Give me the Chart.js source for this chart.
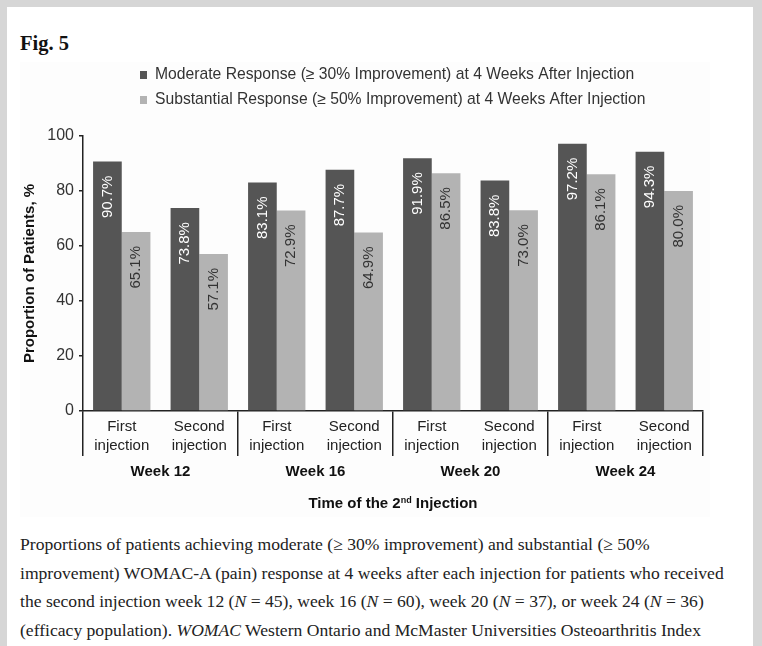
<!DOCTYPE html>
<html>
<head>
<meta charset="utf-8">
<script src="https://cdn.jsdelivr.net/npm/chart.js@4"></script>
<style>
    body { margin: 0; width: 762px; height: 646px; overflow: hidden; background: #fff; }
    #moldura {
        position: absolute; left: 0; top: 0; width: 746px; height: 660px;
        border-left: 7px solid #d6d6d6; border-top: 7px solid #d6d6d6; border-right: 9px solid #d6d6d6;
        background: #fff;
    }
    #figTitulo {
        position: absolute; left: 20px; top: 32px;
        font: bold 20.5px "Liberation Serif", serif; color: #111;
    }
    #areaGrafico {
        position: absolute; left: 20px; top: 62px; width: 690px; height: 455px;
        background: #fdfdfd;
    }
    #legenda {
        position: absolute; left: 20px; top: 530px;
        font: 17.6px/28.5px "Liberation Serif", serif; color: #222; white-space: nowrap;
    }
</style>
</head>
<body>
<div id="moldura"></div>
<div id="figTitulo">Fig. 5</div>
<div id="areaGrafico"><canvas id="grafico"></canvas></div>
<div id="legenda">
Proportions of patients achieving moderate (≥ 30% improvement) and substantial (≥ 50%<br>
improvement) WOMAC-A (pain) response at 4 weeks after each injection for patients who received<br>
the second injection week 12 (<i>N</i> = 45), week 16 (<i>N</i> = 60), week 20 (<i>N</i> = 37), or week 24 (<i>N</i> = 36)<br>
(efficacy population). <i>WOMAC</i> Western Ontario and McMaster Universities Osteoarthritis Index
</div>
<script>
const injectionLabels = [
    ["First", "injection"], ["Second", "injection"],
    ["First", "injection"], ["Second", "injection"],
    ["First", "injection"], ["Second", "injection"],
    ["First", "injection"], ["Second", "injection"]
];
const weekLabels = ["Week 12", "Week 16", "Week 20", "Week 24"];
const seriesNames = [
    "Moderate Response (≥ 30% Improvement) at 4 Weeks After Injection",
    "Substantial Response (≥ 50% Improvement) at 4 Weeks After Injection"
];
const moderateValues = [90.7, 73.8, 83.1, 87.7, 91.9, 83.8, 97.2, 94.3];
const substantialValues = [65.1, 57.1, 72.9, 64.9, 86.5, 73.0, 86.1, 80.0];
const yTickValues = [0, 20, 40, 60, 80, 100];

const fonte = "'Liberation Sans', Arial, sans-serif";

// legenda desenhada em duas linhas, como na figura
const legendaPlugin = {
    id: "legendaDuasLinhas",
    afterDraw(chart) {
        const ctx = chart.ctx;
        ctx.save();
        ctx.font = "15.7px " + fonte;
        ctx.textBaseline = "middle";
        chart.data.datasets.forEach((ds, i) => {
            const y = 13 + i * 25;
            ctx.fillStyle = ds.backgroundColor;
            ctx.fillRect(120, y - 4, 7, 8);
            ctx.fillStyle = "#333";
            ctx.fillText(ds.label, 135, y);
        });
        ctx.restore();
    }
};

// valores rotacionados dentro das barras
const rotulosPlugin = {
    id: "rotulosBarras",
    afterDatasetsDraw(chart) {
        const ctx = chart.ctx;
        ctx.save();
        ctx.font = "15px " + fonte;
        ctx.textAlign = "right";
        ctx.textBaseline = "middle";
        chart.data.datasets.forEach((ds, i) => {
            const meta = chart.getDatasetMeta(i);
            meta.data.forEach((bar, j) => {
                ctx.save();
                ctx.translate(bar.x, bar.y + 14);
                ctx.rotate(-Math.PI / 2);
                ctx.fillStyle = i === 0 ? "#fff" : "#333";
                ctx.fillText(ds.data[j].toFixed(1) + "%", 0, 0);
                ctx.restore();
            });
        });
        ctx.restore();
    }
};

// titulo do eixo x com "nd" sobrescrito
const tituloXPlugin = {
    id: "tituloEixoX",
    afterDraw(chart) {
        const ctx = chart.ctx;
        const area = chart.chartArea;
        const partes = [["Time of the 2", 15, 0], ["nd", 9, -5], [" Injection", 15, 0]];
        ctx.save();
        ctx.fillStyle = "#111";
        ctx.textBaseline = "alphabetic";
        let total = 0;
        partes.forEach(p => {
            ctx.font = "bold " + p[1] + "px " + fonte;
            total += ctx.measureText(p[0]).width;
        });
        let x = (area.left + area.right) / 2 - total / 2;
        const y = chart.height - 9;
        partes.forEach(p => {
            ctx.font = "bold " + p[1] + "px " + fonte;
            ctx.fillText(p[0], x, y + p[2]);
            x += ctx.measureText(p[0]).width;
        });
        ctx.restore();
    }
};

function corSeparador(c) {
    return (c.index === undefined || c.index % 2 === 0) ? "#222" : "rgba(0,0,0,0)";
}

function desenharGrafico() {
    const ctx = document.getElementById("grafico").getContext("2d");
    new Chart(ctx, {
        type: "bar",
        data: {
            labels: injectionLabels,
            datasets: [{
                label: seriesNames[0],
                data: moderateValues,
                backgroundColor: "#555555"
            }, {
                label: seriesNames[1],
                data: substantialValues,
                backgroundColor: "#b3b3b3"
            }]
        },
        options: {
            responsive: true,
            maintainAspectRatio: false,
            animation: false,
            categoryPercentage: 0.74,
            barPercentage: 1.0,
            layout: { padding: { top: 74, right: 7, left: 0, bottom: 0 } },
            plugins: {
                legend: { display: false },
                tooltip: { enabled: false }
            },
            scales: {
                x: {
                    offset: true,
                    grid: {
                        offset: true,
                        drawOnChartArea: false,
                        drawTicks: true,
                        tickLength: 45,
                        color: corSeparador,
                        tickColor: corSeparador,
                        lineWidth: 1.5
                    },
                    border: { display: true, color: "#222", width: 1.5 },
                    ticks: {
                        autoSkip: false,
                        maxRotation: 0,
                        padding: -39,
                        color: "#222",
                        font: { family: fonte, size: 15, lineHeight: 1.3 }
                    },
                    afterFit: s => { s.height = 48; }
                },
                x2: {
                    type: "category",
                    axis: "x",
                    position: "bottom",
                    labels: weekLabels,
                    offset: true,
                    grid: { display: false },
                    border: { display: false },
                    ticks: {
                        autoSkip: false,
                        maxRotation: 0,
                        padding: -4,
                        color: "#111",
                        font: { family: fonte, size: 15, weight: "bold" }
                    },
                    afterFit: s => { s.height = 58; }
                },
                y: {
                    min: 0,
                    max: 100,
                    afterBuildTicks: s => { s.ticks = yTickValues.map(v => ({ value: v })); },
                    grid: {
                        drawOnChartArea: false,
                        drawTicks: true,
                        tickLength: 4,
                        color: "#222",
                        lineWidth: 1.5
                    },
                    border: { display: true, color: "#222", width: 1.5 },
                    ticks: {
                        padding: 5,
                        color: "#333",
                        font: { family: fonte, size: 16 }
                    },
                    title: {
                        display: true,
                        text: "Proportion of Patients, %",
                        color: "#111",
                        padding: { top: 1, bottom: 0 },
                        font: { family: fonte, size: 15, weight: "bold" }
                    },
                    afterFit: s => { s.width = 63; }
                }
            }
        },
        plugins: [legendaPlugin, rotulosPlugin, tituloXPlugin]
    });
}

window.onload = () => {
    desenharGrafico();
};
</script>
</body>
</html>
